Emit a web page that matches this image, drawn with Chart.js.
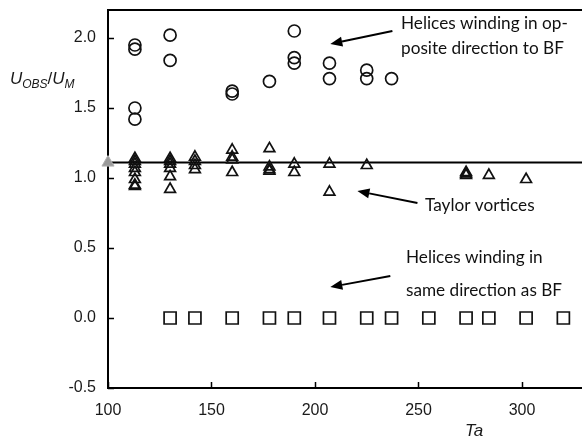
<!DOCTYPE html>
<html>
<head>
<meta charset="utf-8">
<script src="https://cdn.jsdelivr.net/npm/chart.js@4/dist/chart.umd.min.js"></script>
<style>
  html, body { margin: 0; padding: 0; background: #fff; }
  #wrap { width: 582px; height: 440px; }
</style>
</head>
<body>
<div id="wrap"><canvas id="myChart" width="582" height="440"></canvas></div>
<script>
// helices winding opposite to BF (circles)
const oppTa = [113, 113, 113, 113, 130, 130, 160, 160, 178, 190, 190, 190, 207, 207, 225, 225, 237];
const oppU  = [1.95, 1.92, 1.50, 1.42, 2.02, 1.84, 1.62, 1.60, 1.69, 2.05, 1.86, 1.82, 1.82, 1.71, 1.77, 1.71, 1.71];

// Taylor vortices (triangles)
const tvTa = [113, 113, 113, 113, 113, 113, 113, 113, 130, 130, 130, 130, 130, 130, 142, 142, 142, 142,
              160, 160, 160, 160, 178, 178, 178, 178, 190, 190, 207, 207, 225, 273, 273, 273, 284, 302];
const tvU  = [1.14, 1.12, 1.10, 1.07, 1.04, 0.99, 0.95, 0.94, 1.14, 1.12, 1.10, 1.07, 1.01, 0.92, 1.15, 1.12, 1.09, 1.06,
              1.20, 1.15, 1.13, 1.04, 1.21, 1.08, 1.06, 1.05, 1.10, 1.04, 1.10, 0.90, 1.09, 1.04, 1.03, 1.02, 1.02, 0.99];

// helices winding in same direction as BF (squares)
const sameTa = [130, 142, 160, 178, 190, 207, 225, 237, 255, 273, 284, 302, 320];
const sameU  = [0, 0, 0, 0, 0, 0, 0, 0, 0, 0, 0, 0, 0];

// reference line
const refTa = [100, 329];
const refU  = [1.11, 1.11];

const xTicks = [100, 150, 200, 250, 300];
const yTicks = [-0.5, 0.0, 0.5, 1.0, 1.5, 2.0];

// annotation arrows in data coords: [tailTa, tailU, headTa, headU]
const arrows = [
    [237.4, 2.05, 207.4, 1.957],
    [249.5, 0.821, 220.5, 0.907],
    [236.4, 0.30, 207.4, 0.221]
];
const notes = [
    { lines: ['Helices winding in op-', 'posite direction to BF'], x: 401, y: 29, lh: 25 },
    { lines: ['Taylor vortices'], x: 425, y: 211, lh: 25 },
    { lines: ['Helices winding in', 'same direction as BF'], x: 406, y: 263, lh: 33 }
];

function pts(xs, ys) {
    return xs.map((x, i) => ({ x: x, y: ys[i] }));
}

const extras = {
    id: 'extras',
    afterDraw(chart) {
        const ctx = chart.ctx;
        const a = chart.chartArea;
        const xs = chart.scales.x, ys = chart.scales.y;
        ctx.save();
        ctx.strokeStyle = '#000';
        ctx.lineWidth = 2;
        // top border
        ctx.beginPath();
        ctx.moveTo(a.left - 1, a.top);
        ctx.lineTo(a.right, a.top);
        ctx.stroke();
        // inside ticks
        ctx.lineWidth = 1.5;
        yTicks.forEach(v => {
            const py = Math.round(ys.getPixelForValue(v)) + 0.5;
            ctx.beginPath();
            ctx.moveTo(a.left, py);
            ctx.lineTo(a.left + 6, py);
            ctx.stroke();
        });
        xTicks.forEach(v => {
            const px = Math.round(xs.getPixelForValue(v)) + 0.5;
            ctx.beginPath();
            ctx.moveTo(px, a.bottom);
            ctx.lineTo(px, a.bottom - 6);
            ctx.stroke();
        });

        // arrows
        ctx.fillStyle = '#000';
        arrows.forEach(ar => {
            const x1 = xs.getPixelForValue(ar[0]), y1 = ys.getPixelForValue(ar[1]);
            const x2 = xs.getPixelForValue(ar[2]), y2 = ys.getPixelForValue(ar[3]);
            const ang = Math.atan2(y2 - y1, x2 - x1);
            const hl = 12, hw = 5;
            const bx = x2 - Math.cos(ang) * hl, by = y2 - Math.sin(ang) * hl;
            ctx.lineWidth = 2;
            ctx.beginPath();
            ctx.moveTo(x1, y1);
            ctx.lineTo(bx, by);
            ctx.stroke();
            ctx.beginPath();
            ctx.moveTo(x2, y2);
            ctx.lineTo(bx + Math.sin(ang) * hw, by - Math.cos(ang) * hw);
            ctx.lineTo(bx - Math.sin(ang) * hw, by + Math.cos(ang) * hw);
            ctx.closePath();
            ctx.fill();
        });

        // notes
        ctx.fillStyle = '#111';
        ctx.font = '17.2px Lato';
        ctx.textBaseline = 'alphabetic';
        ctx.textAlign = 'left';
        notes.forEach(n => {
            n.lines.forEach((t, i) => ctx.fillText(t, n.x, n.y + i * n.lh));
        });

        // y axis title with subscripts
        let x = 10;
        const base = 84;
        const parts = [
            ['U', 'italic 17px "Liberation Sans"', 0],
            ['OBS', 'italic 12px "Liberation Sans"', 4],
            ['/', '17px "Liberation Sans"', 0],
            ['U', 'italic 17px "Liberation Sans"', 0],
            ['M', 'italic 12px "Liberation Sans"', 4]
        ];
        ctx.fillStyle = '#1a1a1a';
        parts.forEach(p => {
            ctx.font = p[1];
            ctx.fillText(p[0], x, base + p[2]);
            x += ctx.measureText(p[0]).width;
        });

        // x axis title
        ctx.font = 'italic 17px "Liberation Sans"';
        ctx.fillText('Ta', 465, 436);
        ctx.restore();
    }
};

const data = {
    datasets: [
        {
            label: 'Helices opposite',
            data: pts(oppTa, oppU),
            pointStyle: 'circle',
            pointRadius: 6,
            borderColor: '#111',
            backgroundColor: 'rgba(255,255,255,0)',
            borderWidth: 1.7,
            showLine: false
        },
        {
            label: 'Taylor vortices',
            data: pts(tvTa, tvU),
            pointStyle: 'triangle',
            pointRadius: 6.2,
            borderColor: '#111',
            backgroundColor: 'rgba(255,255,255,0)',
            borderWidth: 1.7,
            showLine: false
        },
        {
            label: 'Helices same',
            data: pts(sameTa, sameU),
            pointStyle: 'rect',
            pointRadius: 8.5,
            borderColor: '#111',
            backgroundColor: 'rgba(255,255,255,0)',
            borderWidth: 1.7,
            showLine: false
        },
        {
            label: 'Reference',
            data: pts(refTa, refU),
            showLine: true,
            borderColor: '#000',
            borderWidth: 2,
            pointStyle: 'triangle',
            pointRadius: [7, 0],
            pointBackgroundColor: '#9a9a9a',
            pointBorderColor: '#b0b0b0',
            pointBorderWidth: 1,
            clip: false
        }
    ]
};

const options = {
    responsive: false,
    animation: false,
    layout: { autoPadding: false, padding: { top: 10, right: 0, left: 0, bottom: 0 } },
    plugins: {
        legend: { display: false },
        tooltip: { enabled: false }
    },
    scales: {
        x: {
            type: 'linear',
            min: 100,
            max: 329,
            grid: { display: false, drawTicks: false },
            border: { display: true, color: '#000', width: 2 },
            afterBuildTicks: s => { s.ticks = xTicks.map(v => ({ value: v })); },
            afterFit: s => {
                s.height = 52;
                s.paddingLeft = 0;
                s.paddingRight = 0;
            },
            ticks: {
                padding: 13,
                color: '#1a1a1a',
                font: { family: 'Liberation Sans', size: 16 },
                maxRotation: 0
            }
        },
        y: {
            type: 'linear',
            min: -0.5,
            max: 2.2,
            grid: { display: false, drawTicks: false },
            border: { display: true, color: '#000', width: 2 },
            afterBuildTicks: s => { s.ticks = yTicks.map(v => ({ value: v })); },
            afterFit: s => {
                s.width = 108;
                s.paddingTop = 0;
                s.paddingBottom = 0;
            },
            ticks: {
                padding: 12,
                color: '#1a1a1a',
                font: { family: 'Liberation Sans', size: 16 },
                callback: v => v.toFixed(1)
            }
        }
    }
};

const ctx = document.getElementById('myChart').getContext('2d');
new Chart(ctx, {
    type: 'scatter',
    data: data,
    options: options,
    plugins: [extras]
});
</script>
</body>
</html>
